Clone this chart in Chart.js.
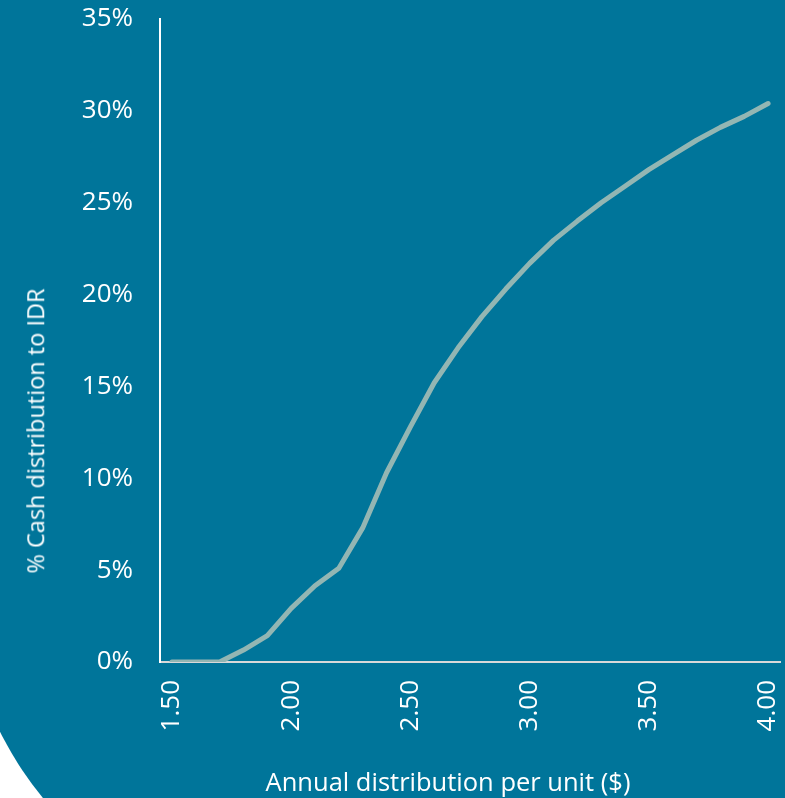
<!DOCTYPE html>
<html>
<head>
<meta charset="utf-8">
<script src="https://cdn.jsdelivr.net/npm/chart.js@4/dist/chart.umd.min.js"></script>
<style>
  html, body { margin: 0; padding: 0; background: #ffffff; overflow: hidden; }
  #wrap { position: relative; width: 785px; height: 798px; overflow: hidden; background: #ffffff; }
  #bg { position: absolute; left: -36px; top: 0; width: 900px; height: 924px; background: #00759A; border-bottom-left-radius: 346px; }
  #c { position: absolute; left: 0; top: 0; }
  .title { position: absolute; color: #ffffff; font-family: "Open Sans", sans-serif; white-space: nowrap; line-height: 1; }
  #xt { left: 448px; top: 769px; font-size: 25.5px; transform: translateX(-50%); }
  #yt { left: 36px; top: 431px; font-size: 23.5px; transform: translate(-50%, -50%) rotate(-90deg); }
</style>
</head>
<body>
<div id="wrap">
  <div id="bg"></div>
  <canvas id="c" width="785" height="798"></canvas>
  <div class="title" id="xt">Annual distribution per unit ($)</div>
  <div class="title" id="yt">% Cash distribution to IDR</div>
</div>
<script>
const categories = ["1.50","1.60","1.70","1.80","1.90","2.00","2.10","2.20","2.30","2.40","2.50","2.60","2.70","2.80","2.90","3.00","3.10","3.20","3.30","3.40","3.50","3.60","3.70","3.80","3.90","4.00"];
const idrShare = [0, 0, 0, 0.65, 1.43, 2.92, 4.15, 5.1, 7.3, 10.3, 12.8, 15.2, 17.1, 18.8, 20.3, 21.7, 22.95, 24.0, 25.0, 25.9, 26.8, 27.6, 28.4, 29.1, 29.7, 30.4];
const yTicks = [0, 5, 10, 15, 20, 25, 30, 35];
const labelEvery = 5;

const tickFont = { family: "Open Sans", size: 26 };

new Chart(document.getElementById('c'), {
  type: 'line',
  data: {
    labels: categories,
    datasets: [{
      data: idrShare,
      borderColor: '#93B6B3',
      borderWidth: 5,
      borderCapStyle: 'round',
      borderJoinStyle: 'round',
      pointRadius: 0,
      tension: 0,
      fill: false
    }]
  },
  options: {
    responsive: false,
    animation: false,
    layout: { padding: { top: 19, right: 5, left: 0, bottom: 0 } },
    plugins: { legend: { display: false }, tooltip: { enabled: false } },
    scales: {
      x: {
        type: 'category',
        offset: true,
        grid: { display: false, drawTicks: false },
        border: { color: '#D9D9D9', width: 2 },
        ticks: {
          autoSkip: false,
          maxRotation: 90,
          minRotation: 90,
          padding: 18,
          color: '#ffffff',
          font: tickFont,
          callback: (v, i) => (i % labelEvery === 0 ? categories[i] : '')
        },
        afterFit: (s) => { s.height = 136; s.paddingLeft = 0; s.paddingRight = 0; }
      },
      y: {
        min: yTicks[0],
        max: yTicks[yTicks.length - 1],
        grid: { display: false, drawTicks: false },
        border: { color: '#ffffff', width: 2 },
        afterBuildTicks: (s) => { s.ticks = yTicks.map(v => ({ value: v })); },
        ticks: {
          padding: 27,
          color: '#ffffff',
          font: tickFont,
          callback: (v) => v + '%'
        },
        afterFit: (s) => { s.width = 160; s.paddingTop = 0; s.paddingBottom = 0; }
      }
    }
  }
});
</script>
</body>
</html>
